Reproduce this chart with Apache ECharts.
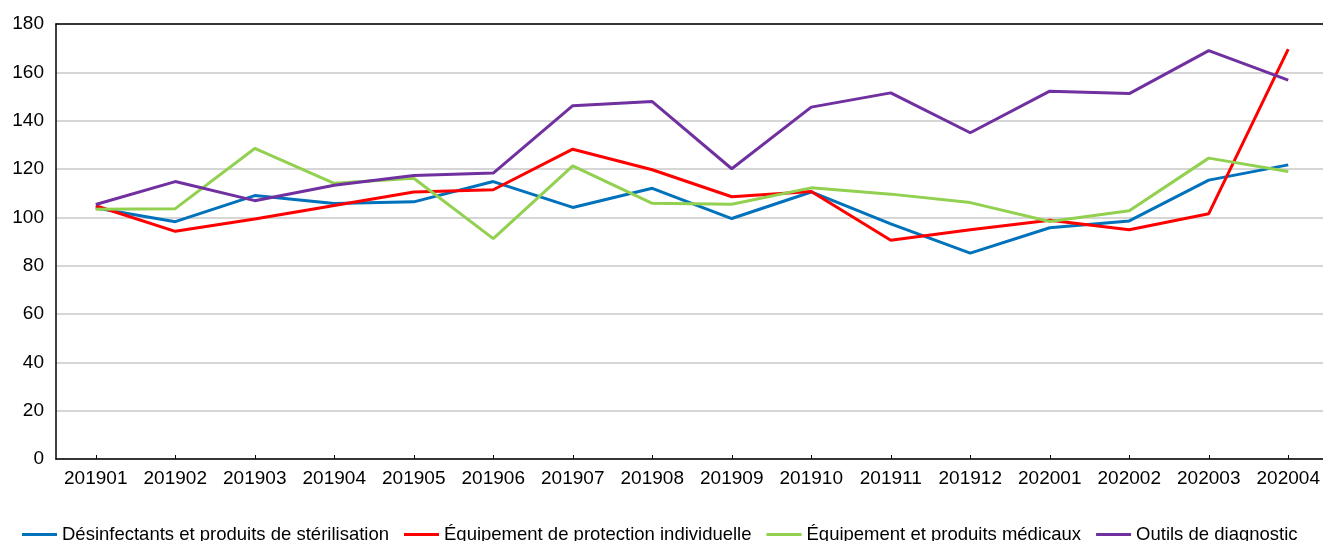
<!DOCTYPE html>
<html>
<head>
<meta charset="utf-8">
<script src="https://cdn.jsdelivr.net/npm/echarts@6/dist/echarts.min.js"></script>
<style>
  html, body { margin: 0; padding: 0; background: #fff; }
  #chart { width: 1323px; height: 541px; }
</style>
</head>
<body>
<div id="chart"></div>
<script>
  // mois (AAAAMM)
  const months = ['201901','201902','201903','201904','201905','201906','201907','201908',
                  '201909','201910','201911','201912','202001','202002','202003','202004'];
  const yTicks = [0, 20, 40, 60, 80, 100, 120, 140, 160, 180];

  const desinfectants = [103.9, 98.2, 109.0, 105.7, 106.4, 114.8, 104.1, 112.0, 99.5, 110.5, 97.3, 85.2, 95.7, 98.5, 115.4, 121.7];
  const protection    = [104.8, 94.2, 99.3, 104.9, 110.5, 111.4, 128.2, 119.7, 108.5, 110.7, 90.5, 94.9, 98.8, 94.9, 101.5, 169.6];
  const medicaux      = [103.3, 103.6, 128.5, 114.1, 116.2, 91.2, 121.3, 105.8, 105.4, 112.2, 109.6, 106.1, 98.3, 102.7, 124.5, 119.0];
  const diagnostic    = [105.3, 114.8, 106.9, 113.3, 117.3, 118.3, 146.2, 147.9, 120.1, 145.6, 151.5, 135.0, 152.2, 151.2, 169.0, 156.8];

  const seriesNames = ['Désinfectants et produits de stérilisation', 'Équipement de protection individuelle',
                       'Équipement et produits médicaux', 'Outils de diagnostic'];
  const colors = ['#0072bc', '#ff0000', '#92d050', '#7030a0'];
  const allData = [desinfectants, protection, medicaux, diagnostic];

  const font = "'Liberation Sans', Arial, sans-serif";

  const myChart = echarts.init(document.getElementById('chart'));
  myChart.setOption({
    animation: false,
    grid: {
      left: 56,
      top: 24,
      width: 1272,
      height: 435,
      outerBoundsMode: 'none'
    },
    legend: {
      left: 17,
      top: 520,
      width: 1320,
      icon: 'rect',
      itemWidth: 35,
      itemHeight: 3,
      itemGap: 15,
      textStyle: { fontFamily: font, fontSize: 18.5, color: '#000' },
      data: seriesNames
    },
    xAxis: [{
      type: 'category',
      data: months,
      boundaryGap: true,
      axisLine: { lineStyle: { color: '#000', width: 1.5 } },
      axisTick: { show: true, alignWithLabel: true, inside: true, length: 4, lineStyle: { color: '#000' } },
      axisLabel: { fontFamily: font, fontSize: 19, color: '#000', margin: 10, interval: 0 },
      splitLine: { show: false }
    }, {
      // bordure haute du cadre
      type: 'category',
      position: 'top',
      data: months,
      z: 5,
      axisLine: { lineStyle: { color: '#000', width: 1.5 } },
      axisTick: { show: false },
      axisLabel: { show: false },
      splitLine: { show: false }
    }],
    yAxis: {
      type: 'value',
      min: yTicks[0],
      max: yTicks[yTicks.length - 1],
      interval: 20,
      axisLine: { show: true, lineStyle: { color: '#000', width: 1.5 } },
      axisTick: { show: false },
      axisLabel: { fontFamily: font, fontSize: 19, color: '#000', margin: 12 },
      splitLine: { lineStyle: { color: '#c8c8c8', width: 1.5 } }
    },
    series: allData.map(function (vals, i) {
      return {
        name: seriesNames[i],
        type: 'line',
        data: vals,
        symbol: 'none',
        color: colors[i],
        lineStyle: { color: colors[i], width: 3 }
      };
    })
  });
</script>
</body>
</html>
